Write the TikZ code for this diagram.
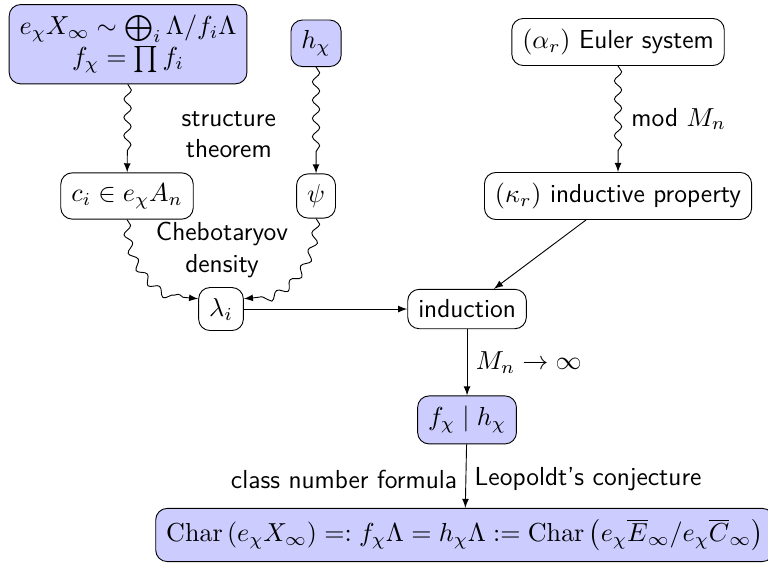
\RequirePackage{fix-cm}
\documentclass[11pt,tikz,border=0pt]{standalone}
\usepackage{amsmath,amssymb}
\usetikzlibrary{arrows}
\usetikzlibrary{decorations.pathmorphing}
\tikzset{every picture/.style={>=latex}}
\tikzset{box/.style={draw, rounded corners=5pt, inner sep=4.6pt}}
\tikzset{hibox/.style={box, fill=blue!20}}
\tikzset{wavy/.style={decorate, decoration={snake, amplitude=1.6pt, segment length=8pt, post length=2mm}}}

\begin{document}
\begin{tikzpicture}[every node/.append style={font=\sffamily\fontsize{11.4}{13.7}\selectfont}]
                    \useasboundingbox (0,0) rectangle (11.815,-8.662);
                    \node[hibox, align=center] (cyc) at (1.97,-0.68) {$e_\chi X_\infty \sim \bigoplus_i \Lambda/f_i\Lambda$\\$f_\chi = \prod f_i$};
                    \node[hibox] (hchi) at (4.862,-0.666) {$h_\chi$};
                    \node[box] (euler) at (9.508,-0.646) {$(\alpha_r)$ Euler system};
                    \node[box] (ci) at (1.954,-3.015) {$c_i \in e_\chi A_n$};
                    \node[box] (psi) at (4.862,-3.015) {$\psi$};
                    \node[box] (kappa) at (9.508,-3.015) {$(\kappa_r)$ inductive property};
                    \node[box] (lam) at (3.4,-4.754) {$\lambda_i$};
                    \node[box] (ind) at (7.185,-4.754) {induction};
                    \node[hibox] (div) at (7.185,-6.46) {$f_\chi \mid h_\chi$};
                    \node[hibox] (char) at (7.15,-8.23) {$\operatorname{Char}\left(e_\chi X_\infty\right) =: f_\chi\Lambda = h_\chi\Lambda := \operatorname{Char}\left(e_\chi\overline{E}_\infty/e_\chi\overline{C}_\infty\right)$};
                    \draw[->, wavy] (cyc) -- (ci);
                    \draw[->, wavy] (hchi) -- (psi);
                    \node[align=center] at (3.52,-2.07) {structure\\theorem};
                    \draw[->, wavy] (euler) -- node[right, xshift=2pt] {mod $M_n$} (kappa);
                    \draw[->, wavy] (ci.south) [out=-90,in=180] to ([yshift=4.5pt]lam.west);
                    \draw[->, wavy] (psi.south) [out=-90,in=0] to ([yshift=4.5pt]lam.east);
                    \node[align=center] at (3.415,-3.846) {Chebotaryov\\density};
                    \draw[->] (lam) -- (ind);
                    \draw[->] (kappa) -- (ind);
                    \draw[->] (ind) -- node[right] {$M_n \to \infty$} (div);
                    \draw[->] (div) -- node[pos=0.55, left] {class number formula} node[pos=0.55, right] {Leopoldt's conjecture} (char);
                \end{tikzpicture}
\end{document}
